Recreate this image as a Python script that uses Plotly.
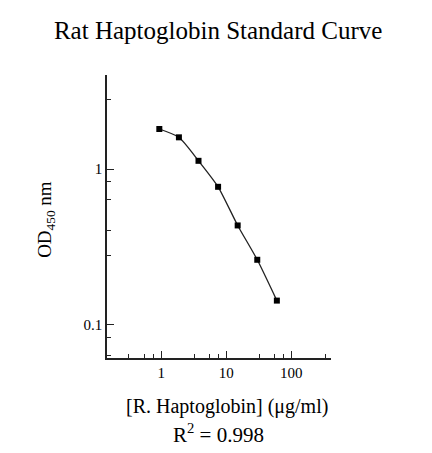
import plotly.graph_objects as go

# Data
concentration = [0.9375, 1.875, 3.75, 7.5, 15, 30, 60]
od450 = [1.81, 1.60, 1.13, 0.769, 0.434, 0.261, 0.1426]

x_major = [1, 10, 100]
x_major_text = ["1", "10", "100"]
x_minor = [0.32, 0.55, 0.76, 3.2, 5.5, 7.6, 32, 55, 76, 330]
y_major = [0.1, 1]
y_major_text = ["0.1", "1"]
y_minor = [2.8, 0.83, 0.64, 0.40, 0.28, 0.083, 0.063]

title_text = "Rat Haptoglobin Standard Curve"
x_title = "[R. Haptoglobin] (\u03bcg/ml)"
y_title = "OD<sub>450</sub> nm"
r2_text = "R<sup>2</sup> = 0.998"

FONT = "Liberation Serif, Times New Roman, serif"

fig = go.Figure()
fig.add_trace(go.Scatter(
    x=concentration, y=od450,
    mode="lines+markers",
    line=dict(color="#222222", width=1.3, shape="spline", smoothing=0.6),
    marker=dict(symbol="square", size=6, color="black"),
    showlegend=False,
    hoverinfo="skip",
))

axis_common = dict(
    showgrid=False, zeroline=False, showline=True,
    linecolor="#222222", linewidth=1.5,
    ticks="inside", ticklen=7, tickwidth=1.3, tickcolor="#222222",
    tickfont=dict(family=FONT, size=15, color="black"),
)

fig.update_xaxes(
    type="log", range=[-0.832, 2.61],
    tickmode="array", tickvals=x_major, ticktext=x_major_text,
    minor=dict(tickmode="array", tickvals=x_minor, ticks="inside",
               ticklen=4, tickwidth=1.2, tickcolor="#222222"),
    **axis_common,
)
fig.update_yaxes(
    type="log", range=[-1.215, 0.605],
    tickmode="array", tickvals=y_major, ticktext=y_major_text,
    minor=dict(tickmode="array", tickvals=y_minor, ticks="inside",
               ticklen=4, tickwidth=1.2, tickcolor="#222222"),
    **axis_common,
)

fig.update_layout(
    width=432, height=453,
    margin=dict(l=107, r=101, t=75, b=95),
    paper_bgcolor="white", plot_bgcolor="white",
    font=dict(family=FONT, color="black"),
    title=dict(text=title_text, x=0.505, xanchor="center",
               y=1 - 30 / 453, yanchor="middle",
               font=dict(family=FONT, size=25, color="black")),
    annotations=[
        dict(text=x_title, xref="paper", yref="paper",
             x=0.536, y=-0.172, xanchor="center", yanchor="middle",
             showarrow=False, font=dict(family=FONT, size=20, color="black")),
        dict(text=r2_text, xref="paper", yref="paper",
             x=0.496, y=-0.266, xanchor="center", yanchor="middle",
             showarrow=False, font=dict(family=FONT, size=21, color="black")),
        dict(text=y_title, xref="paper", yref="paper",
             x=-0.27, y=0.49, xanchor="center", yanchor="middle",
             textangle=-90,
             showarrow=False, font=dict(family=FONT, size=19, color="black")),
    ],
)

fig.write_html("out.html")
